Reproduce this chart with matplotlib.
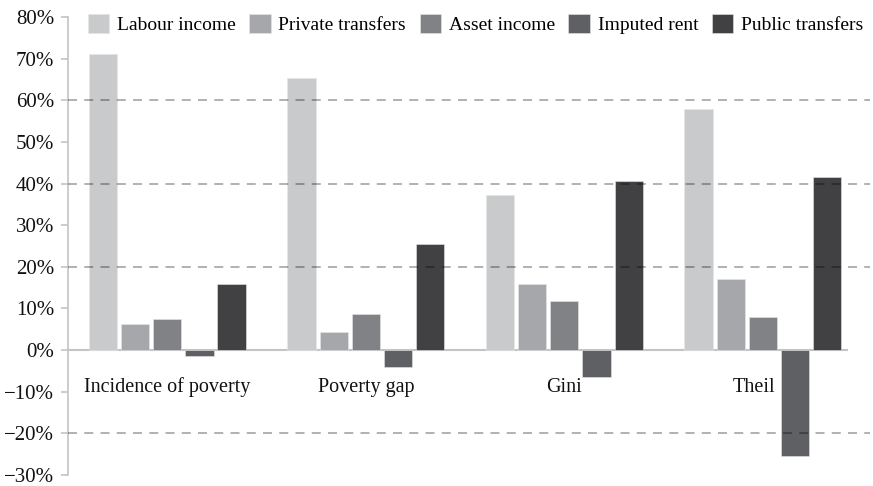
import matplotlib
matplotlib.use("Agg")
import matplotlib.pyplot as plt
import numpy as np

categories = ["Incidence of poverty", "Poverty gap", "Gini", "Theil"]
series = ["Labour income", "Private transfers", "Asset income", "Imputed rent", "Public transfers"]
labour = [71.1, 65.4, 37.2, 57.8]
private = [6.2, 4.3, 15.9, 17.1]
asset = [7.5, 8.6, 11.7, 7.9]
imputed = [-1.4, -4.1, -6.5, -25.5]
public = [15.9, 25.4, 40.6, 41.6]
colors = ["#c9cacc", "#a5a7aa", "#818285", "#5f6064", "#414143"]
yticks = list(range(-30, 90, 10))

plt.rcParams["font.family"] = ["Liberation Serif", "DejaVu Serif"]

fig = plt.figure(figsize=(8.73, 4.86), dpi=100)
ax = fig.add_axes([68 / 873, 1 - 475 / 486, (870 - 68) / 873, (475 - 17) / 486])

x = np.arange(len(categories))
pitch = 0.162
width = 0.142
data = [labour, private, asset, imputed, public]
for i, (name, vals) in enumerate(zip(series, data)):
    ax.bar(x + (i - 2) * pitch, vals, width, color=colors[i], label=name,
           edgecolor="#e6e6e6", linewidth=0.4, zorder=2)

xmin, xmax = -0.5, len(categories) - 1 + 0.54
ax.set_xlim(xmin, xmax)
ax.set_ylim(-30, 80)

# dashed guides drawn over the bars, zero line solid
for g in [60, 40, 20, -20]:
    ax.axhline(g, color="black", alpha=0.33, linestyle=(0, (5, 4)), linewidth=1.3, zorder=3)
ax.hlines(0, xmin, len(categories) - 1 + 0.43, color="#c4c4c4", linewidth=1.5, zorder=1)

# Theil label sits a little left so it clears the imputed-rent bar
label_shift = [0, 0, 0, -0.045]
for xi, cat, dx in zip(x, categories, label_shift):
    ax.text(xi + dx, -8.9, cat, ha="center", va="center", fontsize=14.5, color="#111111")

ax.set_yticks(yticks)
ax.set_yticklabels([("\u2212" if v < 0 else "") + f"{abs(v)}%" for v in yticks], fontsize=15)
ax.set_xticks([])
for s in ["top", "right", "bottom"]:
    ax.spines[s].set_visible(False)
ax.spines["left"].set_color("#c4c4c4")
ax.spines["left"].set_linewidth(1.2)
ax.tick_params(axis="y", length=5, color="#c4c4c4", width=1.2, pad=5, labelcolor="#111111")

leg = fig.legend(loc="center right", bbox_to_anchor=(1.0, 1 - 24 / 486), ncol=5, frameon=False,
                 fontsize=14, handlelength=1.1, handleheight=1.1, handletextpad=0.4,
                 columnspacing=0.7, borderaxespad=0.1)
for h in leg.legend_handles:
    h.set_edgecolor("#e6e6e6")

fig.savefig("out.png", dpi=100)
